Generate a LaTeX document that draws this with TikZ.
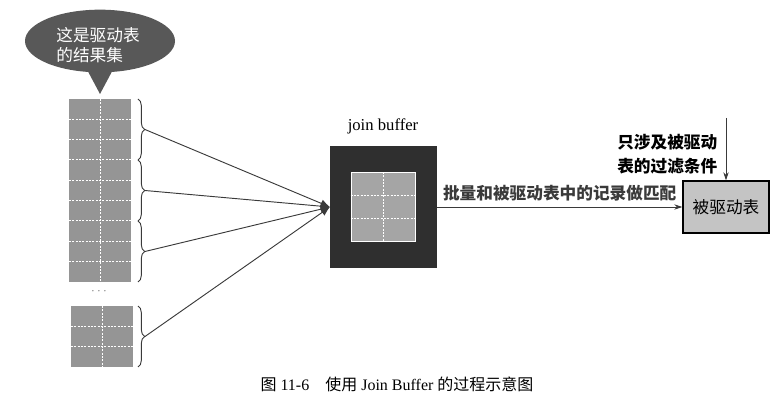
\documentclass[tikz,border=0pt]{standalone}
\usepackage{fontspec}
\setmainfont{Liberation Serif}
\newfontfamily\cjk{Noto Sans CJK SC}
\usepackage{xcolor}
\usetikzlibrary{calc,arrows.meta,positioning,decorations.pathreplacing,shapes.geometric}
\definecolor{cellgray}{HTML}{959595}
\definecolor{bubblegray}{HTML}{585858}
\definecolor{bufgray}{HTML}{2F2F2F}
\definecolor{drvgray}{HTML}{C4C4C4}
\definecolor{linegray}{HTML}{3A3A3A}
\tikzset{
  cellsep/.style={white, dashed, line width=0.6pt, dash pattern=on 1.5pt off 1pt},
  bracket/.style={decorate, decoration={brace, amplitude=5pt}, linegray, line width=0.7pt},
  feed/.style={linegray, line width=0.7pt, -{Latex[length=7pt,width=6pt]}},
  flow/.style={linegray, line width=0.7pt, -{Stealth[length=6pt,width=4pt]}},
  txt/.style={font=\cjk\fontsize{12.5}{17}\selectfont},
}
% stack of cells: x, top y, number of rows, list of inner row lines
\newcommand{\cellstack}[4]{%
  \fill[cellgray] (#1,#2) rectangle ++(62,#3*20.3);
  \draw[cellsep] (#1+31,#2) -- ++(0,#3*20.3);
  \foreach \r in {#4} {
    \draw[cellsep] (#1,#2+\r*20.3) -- ++(62,0);
  }
}
\begin{document}
\begin{tikzpicture}[x=0.75pt, y=-0.75pt]
  \useasboundingbox (0,0) rectangle (784,402);

  % Driving table result set
  \node[ellipse, fill=bubblegray, minimum width=112.5pt, minimum height=47pt,
        inner sep=0pt] (bubble) at (100,41) {};
  \fill[bubblegray] (84,64) -- (100,94) -- (116,64) -- cycle;
  \node[font=\cjk\fontsize{12.5}{15}\selectfont, text=white, align=left] (bubbletext) at (98,45)
        {这是驱动表\\的结果集};

  \cellstack{69}{99}{9}{1,...,8}
  \node[gray] (dots) at (99,292) {$\cdots$};
  \cellstack{71}{306}{3}{1,2}

  % Braces
  \foreach \i/\ya/\yb in {1/99/160, 2/160/221, 3/221/282, 4/306/367} {
    \draw[bracket] (138,\ya) -- (138,\yb);
    \coordinate (b\i) at (145,{(\ya+\yb)/2});
  }

  % Join buffer
  \node[font=\fontsize{12.5}{15}\selectfont] (buflabel) at (383,126) {join buffer};
  \node[fill=bufgray, minimum width=80pt, minimum height=92pt, inner sep=0pt]
        (buf) at (383.5,207) {};
  \node[fill=cellgray!85!white, draw=white, line width=0.8pt,
        minimum width=48.5pt, minimum height=51.5pt, inner sep=0pt] (inner) at (buf) {};
  \draw[cellsep] (inner.north) -- (inner.south);
  \draw[cellsep] ($(inner.north west)!0.333!(inner.south west)$) -- ($(inner.north east)!0.333!(inner.south east)$);
  \draw[cellsep] ($(inner.north west)!0.667!(inner.south west)$) -- ($(inner.north east)!0.667!(inner.south east)$);

  \foreach \i in {1,...,4} {
    \draw[feed] (b\i) -- (buf.west);
  }

  % Driven table
  \node[draw=black, line width=1pt, fill=drvgray, minimum width=64.5pt, minimum height=39pt,
        txt] (drv) at (726,207) {被驱动表};
  \draw[flow] (buf.east) -- (drv.west)
        node[midway, above=1pt, txt, font=\cjk\bfseries\fontsize{12.5}{17}\selectfont] (match) {批量和被驱动表中的记录做匹配};

  \coordinate (cond) at (726,118);
  \draw[flow] (cond) -- (drv.north);
  \node[txt, font=\cjk\bfseries\fontsize{12.5}{18}\selectfont, align=right, anchor=east] (filter) at (722,154)
        {只涉及被驱动\\表的过滤条件};

  % Caption
  \node[font=\fontsize{12}{15}\selectfont] (caption) at (397,384)
        {{\cjk 图} 11-6\quad{\cjk 使用} Join Buffer {\cjk 的过程示意图}};
\end{tikzpicture}
\end{document}
